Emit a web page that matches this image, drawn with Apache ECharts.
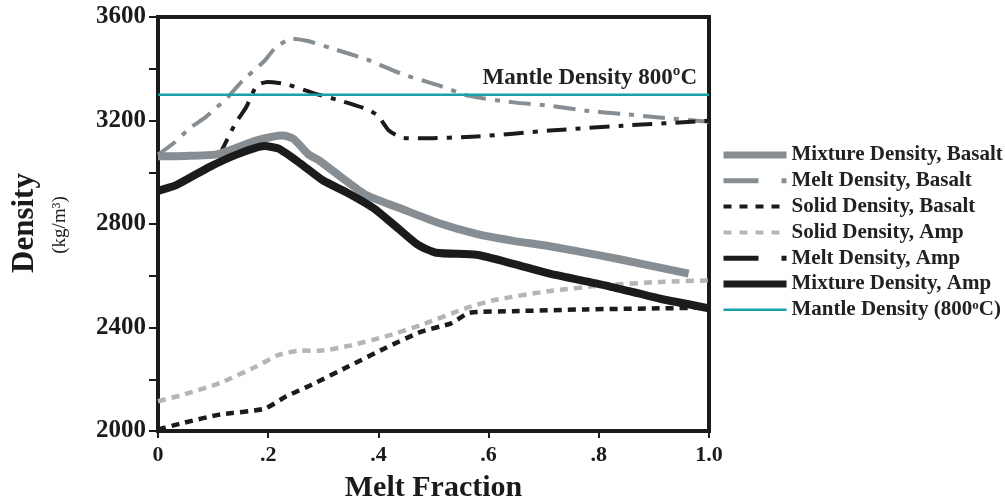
<!DOCTYPE html>
<html><head><meta charset="utf-8">
<script src="https://cdn.jsdelivr.net/npm/echarts@6/dist/echarts.min.js"></script>
<style>html,body{margin:0;padding:0;background:#fff;overflow:hidden}#c{width:1005px;height:500px}</style>
</head><body><div id="c"></div>
<script>
// ---- data ----
const xTickLabels = ['0', '.2', '.4', '.6', '.8', '1.0'];
const seriesNames = ['Mixture Density, Basalt','Melt Density, Basalt','Solid Density, Basalt','Solid Density, Amp','Melt Density, Amp','Mixture Density, Amp','Mantle Density (800ºC)'];

const mixBasaltX = [0, 0.05, 0.106, 0.146, 0.179, 0.226, 0.246, 0.272, 0.292, 0.332, 0.379, 0.445, 0.512, 0.578, 0.645, 0.711, 0.804, 0.88, 0.963];
const mixBasaltY = [3062, 3063, 3069, 3097, 3123, 3142, 3129, 3071, 3046, 2982, 2911, 2856, 2802, 2762, 2735, 2714, 2678, 2645, 2608];

const meltBasaltX = [0, 0.027, 0.06, 0.086, 0.126, 0.153, 0.193, 0.213, 0.243, 0.272, 0.312, 0.379, 0.445, 0.512, 0.565, 0.645, 0.711, 0.777, 0.844, 0.91, 1.0];
const meltBasaltY = [3068, 3110, 3174, 3212, 3289, 3353, 3430, 3481, 3516, 3507, 3481, 3436, 3378, 3334, 3295, 3270, 3257, 3238, 3225, 3212, 3195];

const solidBasaltX = [0, 0.047, 0.113, 0.193, 0.233, 0.279, 0.346, 0.412, 0.478, 0.532, 0.565, 0.645, 0.777, 0.91, 1.0];
const solidBasaltY = [2006, 2032, 2064, 2086, 2134, 2179, 2250, 2320, 2384, 2416, 2457, 2463, 2470, 2474, 2477];

const solidAmpX = [0, 0.047, 0.113, 0.179, 0.219, 0.259, 0.292, 0.346, 0.412, 0.478, 0.558, 0.611, 0.711, 0.811, 0.91, 1.0];
const solidAmpY = [2115, 2141, 2186, 2250, 2294, 2311, 2310, 2329, 2365, 2410, 2474, 2506, 2541, 2563, 2576, 2582];

const meltAmpX = [0.11, 0.14, 0.16, 0.179, 0.199, 0.233, 0.279, 0.332, 0.379, 0.399, 0.419, 0.445, 0.478, 0.578, 0.711, 0.844, 1.0];
const meltAmpY = [3059, 3187, 3251, 3334, 3349, 3340, 3308, 3276, 3244, 3219, 3161, 3133, 3131, 3138, 3161, 3180, 3199];

const mixAmpX = [0, 0.033, 0.093, 0.146, 0.193, 0.219, 0.259, 0.299, 0.346, 0.392, 0.432, 0.472, 0.505, 0.578, 0.645, 0.711, 0.811, 0.91, 1.0];
const mixAmpY = [2928, 2950, 3020, 3071, 3101, 3091, 3033, 2969, 2918, 2860, 2790, 2719, 2689, 2681, 2646, 2608, 2563, 2512, 2474];

const mantleX = [0, 1];
const mantleY = [3300, 3300];
const mantleLabel = 'Mantle Density 800ºC';

// ---- build ----
const zip = (xs, ys) => xs.map((x, i) => [x, ys[i]]);
const serif = '"Liberation Serif", "DejaVu Serif", serif';
const gray = '#868d93', light = '#b4b5b7', black = '#1b1b1b', teal = '#1aa0a7';

function line(name, xs, ys, color, width, type, z, extra) {
  return Object.assign({
    name, type: 'line', data: zip(xs, ys), showSymbol: false, symbol: 'none',
    smooth: 0.2, z,
    lineStyle: { color, width, type, cap: 'butt', join: 'round' },
    itemStyle: { color }
  }, extra || {});
}

const chart = echarts.init(document.getElementById('c'));
chart.setOption({
  animation: false,
  backgroundColor: '#fff',
  grid: { left: 158, right: 296, top: 17, bottom: 69, containLabel: false, outerBoundsMode: 'none',
    show: true, borderColor: black, borderWidth: 4 },
  xAxis: {
    type: 'value', min: 0, max: 1, interval: 0.2,
    name: 'Melt Fraction', nameLocation: 'middle', nameGap: 42,
    nameTextStyle: { fontFamily: serif, fontWeight: 'bold', fontSize: 30, color: black },
    axisLine: { show: true, lineStyle: { color: black, width: 4 } },
    axisTick: { show: true, inside: false, length: 7, lineStyle: { color: black, width: 2 } },
    axisLabel: { fontFamily: serif, fontWeight: 'bold', fontSize: 22, color: black, margin: 13,
      formatter: (v) => xTickLabels[Math.round(v / 0.2)] },
    splitLine: { show: false }
  },
  yAxis: {
    type: 'value', min: 2000, max: 3600, interval: 400,
    axisLine: { show: true, lineStyle: { color: black, width: 4 } },
    axisTick: { show: true, inside: false, length: 9, lineStyle: { color: black, width: 2 } },
    minorTick: { show: true, splitNumber: 2, length: 9, lineStyle: { color: black, width: 2 } },
    axisLabel: { fontFamily: serif, fontWeight: 'bold', fontSize: 25, color: black, margin: 12,
      formatter: v => String(v) },
    splitLine: { show: false }
  },
  legend: {
    orient: 'vertical', left: 720, top: 144.5, padding: 0, itemWidth: 63, itemHeight: 14,
    itemGap: 4.8,
    itemStyle: { opacity: 0, borderWidth: 0 },
    textStyle: { fontFamily: serif, fontWeight: 'bold', fontSize: 21, lineHeight: 21, color: '#222',
      rich: { sup: { fontFamily: serif, fontWeight: 'bold', fontSize: 13, lineHeight: 21, verticalAlign: 'top', padding: [0, 0, 6, 0] } } },
    formatter: n => n.replace('800ºC', '800{sup|o}C'),
    data: [
      { name: seriesNames[0], lineStyle: { width: 7, type: 'solid' } },
      { name: seriesNames[1], lineStyle: { width: 5, type: [35, 23, 5, 100] } },
      { name: seriesNames[2], lineStyle: { width: 4, type: [8, 8] } },
      { name: seriesNames[3], lineStyle: { width: 4, type: [8, 8] } },
      { name: seriesNames[4], lineStyle: { width: 5, type: [35, 23, 5, 100] } },
      { name: seriesNames[5], lineStyle: { width: 7, type: 'solid' } },
      { name: seriesNames[6], lineStyle: { width: 2.5, type: 'solid' } }
    ]
  },
  series: [
    line(seriesNames[3], solidAmpX, solidAmpY, light, 4.5, [8, 6], 2),
    line(seriesNames[2], solidBasaltX, solidBasaltY, black, 4.5, [8, 6], 2),
    line(seriesNames[1], meltBasaltX, meltBasaltY, gray, 4, [22, 9, 5, 9], 3),
    line(seriesNames[4], meltAmpX, meltAmpY, black, 4, [20, 9, 5, 9], 3),
    line(seriesNames[0], mixBasaltX, mixBasaltY, gray, 8, 'solid', 4),
    line(seriesNames[5], mixAmpX, mixAmpY, black, 8, 'solid', 5),
    line(seriesNames[6], mantleX, mantleY, teal, 2.5, 'solid', 6, {
      smooth: false,
      markLine: {
        silent: true, symbol: 'none', animation: false,
        lineStyle: { width: 1, color: 'rgba(0,0,0,0)', type: 'solid' },
        label: { show: true, position: 'insideEndTop', distance: [12, 5], formatter: mantleLabel,
          fontFamily: serif, fontWeight: 'bold', fontSize: 23, color: '#222' },
        data: [{ yAxis: mantleY[0] }]
      }
    })
  ],
  graphic: [
    { type: 'text', x: 25, y: 223, rotation: Math.PI / 2,
      style: { text: 'Density', font: 'bold 31px ' + serif, fill: black, textAlign: 'center', textVerticalAlign: 'middle' } },
    { type: 'text', x: 60, y: 225, rotation: Math.PI / 2,
      style: { text: '(kg/m³)', font: '19px ' + serif, fill: black, textAlign: 'center', textVerticalAlign: 'middle' } }
  ]
});
</script></body></html>
